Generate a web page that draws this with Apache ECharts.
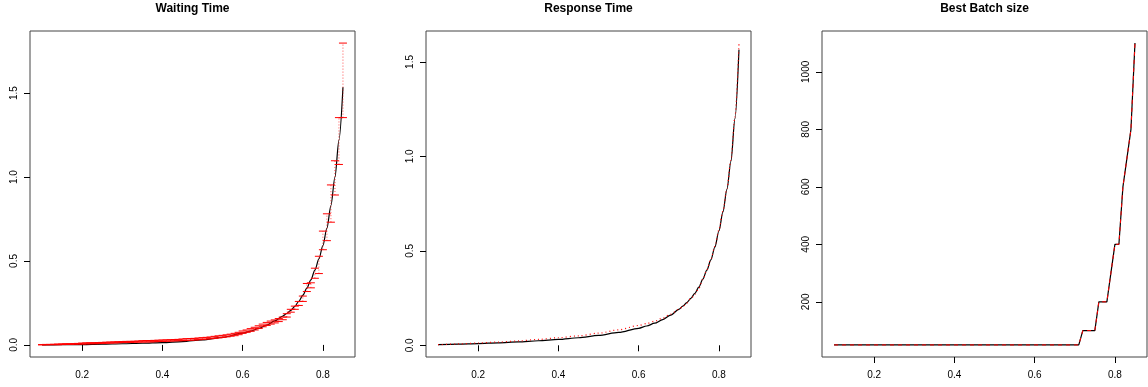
<!DOCTYPE html>
<html>
<head>
<meta charset="utf-8">
<script src="https://cdn.jsdelivr.net/npm/echarts@6/dist/echarts.min.js"></script>
<style>
  html, body { margin: 0; padding: 0; background: #fff; }
  #chart { width: 1148px; height: 387px; }
</style>
</head>
<body>
<div id="chart"></div>
<script>
// model curves (black), sampled on rho
const rho = [0.10, 0.15, 0.20, 0.25, 0.30, 0.35, 0.40, 0.45, 0.50, 0.55, 0.60, 0.62, 0.64, 0.66, 0.68,
  0.70, 0.71, 0.72, 0.73, 0.74, 0.75, 0.76, 0.77, 0.78, 0.79, 0.80, 0.81, 0.82, 0.83, 0.84, 0.85];
const waitModel = [0.000, 0.001, 0.002, 0.004, 0.007, 0.010, 0.014, 0.020, 0.030, 0.045, 0.070, 0.082, 0.098, 0.118, 0.143,
  0.172, 0.187, 0.206, 0.230, 0.260, 0.296, 0.338, 0.388, 0.445, 0.512, 0.592, 0.695, 0.830, 1.000, 1.220, 1.535];
const respModel = [0.003, 0.006, 0.009, 0.013, 0.018, 0.024, 0.031, 0.040, 0.052, 0.068, 0.090, 0.102, 0.117, 0.136, 0.160,
  0.190, 0.207, 0.226, 0.248, 0.275, 0.308, 0.350, 0.398, 0.452, 0.520, 0.605, 0.705, 0.825, 0.975, 1.200, 1.565];
// simulation (red)
const respSim = [0.003, 0.007, 0.012, 0.017, 0.023, 0.031, 0.040, 0.050, 0.064, 0.082, 0.105, 0.115, 0.128, 0.144, 0.165,
  0.190, 0.205, 0.224, 0.246, 0.270, 0.302, 0.348, 0.400, 0.456, 0.524, 0.610, 0.710, 0.830, 0.980, 1.210, 1.594];

const rhoSim = [0.10, 0.11, 0.12, 0.13, 0.14, 0.15, 0.16, 0.17, 0.18, 0.19,
  0.20, 0.21, 0.22, 0.23, 0.24, 0.25, 0.26, 0.27, 0.28, 0.29,
  0.30, 0.31, 0.32, 0.33, 0.34, 0.35, 0.36, 0.37, 0.38, 0.39,
  0.40, 0.41, 0.42, 0.43, 0.44, 0.45, 0.46, 0.47, 0.48, 0.49,
  0.50, 0.51, 0.52, 0.53, 0.54, 0.55, 0.56, 0.57, 0.58, 0.59,
  0.60, 0.61, 0.62, 0.63, 0.64, 0.65, 0.66, 0.67, 0.68, 0.69,
  0.70, 0.71, 0.72, 0.73, 0.74, 0.75, 0.76, 0.77, 0.78, 0.79, 0.80, 0.81, 0.82, 0.83, 0.84, 0.85];
const waitLo = [0.000, 0.001, 0.001, 0.002, 0.001, 0.002, 0.003, 0.003, 0.004, 0.005,
  0.005, 0.006, 0.007, 0.007, 0.008, 0.009, 0.010, 0.011, 0.012, 0.013,
  0.014, 0.015, 0.015, 0.016, 0.017, 0.017, 0.018, 0.018, 0.019, 0.020,
  0.021, 0.022, 0.023, 0.024, 0.025, 0.025, 0.027, 0.028, 0.029, 0.031,
  0.033, 0.035, 0.037, 0.039, 0.042, 0.045, 0.048, 0.052, 0.055, 0.061,
  0.069, 0.075, 0.081, 0.089, 0.098, 0.108, 0.116, 0.124, 0.131, 0.139,
  0.150, 0.166, 0.195, 0.212, 0.235, 0.259, 0.318, 0.340, 0.397, 0.425, 0.567, 0.621, 0.731, 0.893, 1.075, 1.354];
const waitHi = [0.002, 0.003, 0.003, 0.004, 0.005, 0.006, 0.007, 0.007, 0.008, 0.009,
  0.011, 0.012, 0.013, 0.013, 0.014, 0.015, 0.016, 0.017, 0.018, 0.019,
  0.020, 0.021, 0.021, 0.022, 0.023, 0.025, 0.026, 0.026, 0.027, 0.028,
  0.029, 0.030, 0.031, 0.032, 0.033, 0.035, 0.037, 0.038, 0.039, 0.041,
  0.043, 0.045, 0.047, 0.051, 0.054, 0.057, 0.060, 0.064, 0.069, 0.075,
  0.083, 0.089, 0.097, 0.105, 0.114, 0.124, 0.134, 0.142, 0.149, 0.157,
  0.166, 0.186, 0.212, 0.231, 0.259, 0.291, 0.366, 0.370, 0.457, 0.528, 0.678, 0.781, 0.953, 1.097, 1.354, 1.798];

// best batch size
const batchRho = [0.10, 0.71, 0.72, 0.75, 0.76, 0.78, 0.79, 0.80, 0.81, 0.82, 0.83, 0.84, 0.85];
const batchModel = [50, 50, 100, 100, 200, 200, 300, 400, 400, 600, 700, 800, 1100];
const batchSim = [50, 50, 100, 100, 200, 200, 300, 400, 400, 600, 700, 800, 1100];

const titles = ["Waiting Time", "Response Time", "Best Batch size"];
const xTicks = [0.2, 0.4, 0.6, 0.8];
const yTicks = [[0.0, 0.5, 1.0, 1.5], [0.0, 0.5, 1.0, 1.5], [200, 400, 600, 800, 1000]];
const yRange = [[-0.072, 1.87], [-0.062, 1.664], [8, 1142]];

const FONT = "'Liberation Sans', Arial, Helvetica, sans-serif";
const pair = (xs, ys) => xs.map((x, i) => [x, ys[i]]);
const gridLeft = [30, 426, 822];
const boxW = 325, boxH = 326, boxTop = 31;

const chart = echarts.init(document.getElementById("chart"), null, { renderer: "canvas" });

function errorBar(params, api) {
  const x = api.value(0);
  const lo = api.coord([x, api.value(1)]);
  const hi = api.coord([x, api.value(2)]);
  const half = 4;
  return {
    type: "group",
    children: [
      { type: "line", shape: { x1: lo[0], y1: lo[1], x2: hi[0], y2: hi[1] },
        style: { stroke: "#ff0000", lineWidth: 1, lineDash: [1, 2], opacity: 0.7 } },
      { type: "line", shape: { x1: lo[0] - half, y1: lo[1], x2: lo[0] + half, y2: lo[1] },
        style: { stroke: "#ff0000", lineWidth: 1 } },
      { type: "line", shape: { x1: hi[0] - half, y1: hi[1], x2: hi[0] + half, y2: hi[1] },
        style: { stroke: "#ff0000", lineWidth: 1 } },
    ],
  };
}

const grids = gridLeft.map((left) => ({
  left: left, top: boxTop, width: boxW, height: boxH,
  show: true, borderColor: "#444", borderWidth: 1, backgroundColor: "transparent",
}));

const xAxes = gridLeft.map((_, i) => ({
  type: "value", gridIndex: i, min: 0.07, max: 0.88,
  axisLine: { show: false },
  splitLine: { show: false },
  axisTick: { show: true, length: 6, customValues: xTicks, lineStyle: { color: "#000" } },
  axisLabel: {
    customValues: xTicks, margin: 13, color: "#000", fontSize: 10, fontFamily: FONT,
    formatter: (v) => v.toFixed(1),
  },
}));

const yAxes = gridLeft.map((_, i) => ({
  type: "value", gridIndex: i, min: yRange[i][0], max: yRange[i][1],
  axisLine: { show: false },
  splitLine: { show: false },
  axisTick: { show: true, length: 6, customValues: yTicks[i], lineStyle: { color: "#000" } },
  axisLabel: {
    customValues: yTicks[i], rotate: 90, margin: 11, color: "#000", fontSize: 10, fontFamily: FONT,
    formatter: (v) => (i === 2 ? String(Math.round(v)) : v.toFixed(1)),
  },
}));

const lineBase = { type: "line", showSymbol: false, symbol: "none", silent: true };
const curve = { ...lineBase, smooth: 0.3, smoothMonotone: "x" };

chart.setOption({
  animation: false,
  backgroundColor: "#fff",
  graphic: titles.map((t, i) => ({
    type: "text", x: gridLeft[i] + boxW / 2, y: 3,
    style: { text: t, fill: "#000", font: "bold 12px " + FONT, textAlign: "center", textVerticalAlign: "top" },
  })),
  grid: grids,
  xAxis: xAxes,
  yAxis: yAxes,
  series: [
    { ...curve, xAxisIndex: 0, yAxisIndex: 0, data: pair(rho, waitModel),
      lineStyle: { color: "#000", width: 1.2 }, z: 2 },
    { type: "custom", xAxisIndex: 0, yAxisIndex: 0, renderItem: errorBar, silent: true,
      encode: { x: 0, y: [1, 2] }, z: 3,
      data: rhoSim.map((x, i) => [x, waitLo[i], waitHi[i]]) },

    { ...curve, xAxisIndex: 1, yAxisIndex: 1, data: pair(rho, respModel),
      lineStyle: { color: "#000", width: 1.2 }, z: 2 },
    { ...curve, xAxisIndex: 1, yAxisIndex: 1, data: pair(rho, respSim),
      lineStyle: { color: "#ff0000", width: 1.2, type: [1, 3] }, z: 3 },

    { ...lineBase, xAxisIndex: 2, yAxisIndex: 2, data: pair(batchRho, batchModel),
      lineStyle: { color: "#000", width: 1.2 }, z: 2 },
    { ...lineBase, xAxisIndex: 2, yAxisIndex: 2, data: pair(batchRho, batchSim),
      lineStyle: { color: "#ff0000", width: 1, type: [4, 4] }, z: 3 },
  ],
});
</script>
</body>
</html>
